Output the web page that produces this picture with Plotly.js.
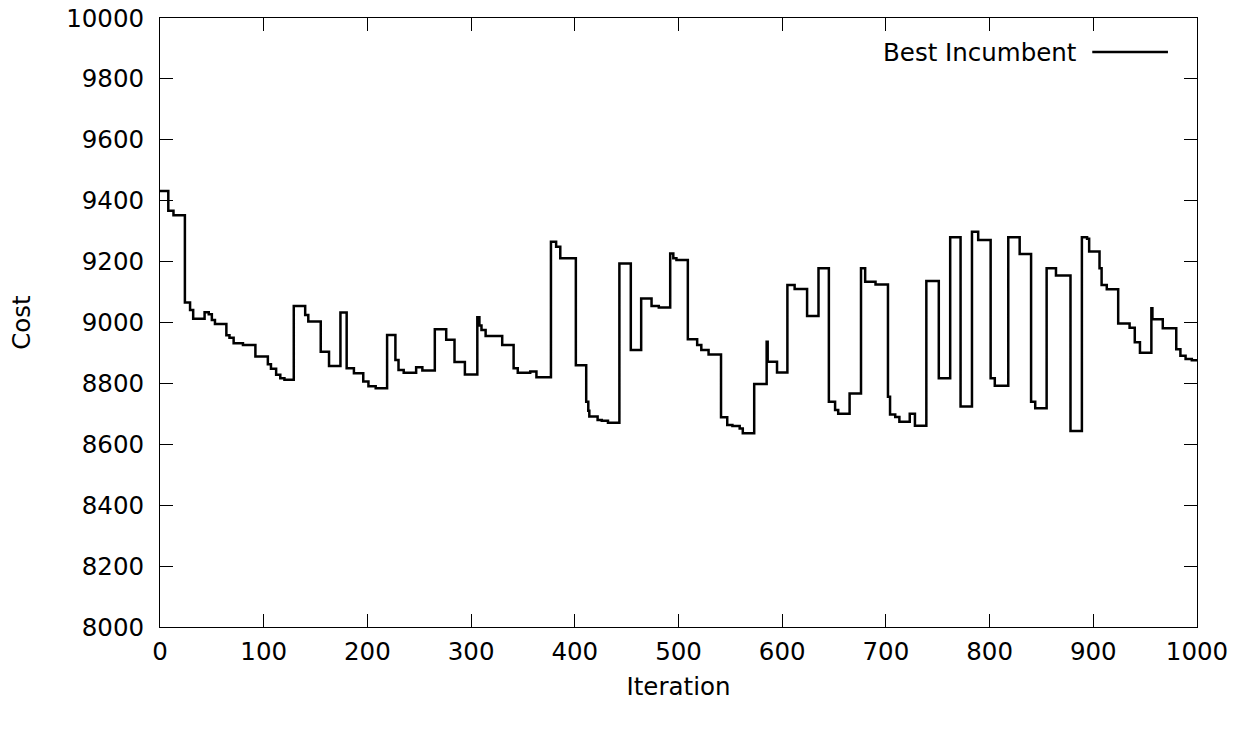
<!DOCTYPE html>
<html>
<head>
<meta charset="utf-8">
<script src="https://cdn.plot.ly/plotly-3.0.1.min.js"></script>
<style>html,body{margin:0;padding:0;background:#fff}#chart{width:1243px;height:730px}</style>
</head>
<body>
<div id="chart"></div>
<script>
// Change points of the step series (iteration, cost)
const iterations = [0,8,13,24,29,32,43,47,50,53,64,67,71,80,92,104,107,112,116,120,
  129,140,143,155,163,174,180,187,196,201,208,219,227,230,235,247,253,265,276,284,294,
  306,308,310,314,330,341,345,357,363,377,382,386,401,411,413,414,422,426,432,443,454,
  464,474,481,492,495,498,509,518,522,529,541,547,552,559,562,573,585,586,595,605,612,
  624,635,645,651,654,665,676,680,690,702,704,709,713,723,728,739,751,762,772,783,789,
  801,805,818,829,840,844,855,864,878,889,894,896,906,908,913,924,935,940,945,956,957,
  967,980,984,989,995,1000];
const bestIncumbent = [9432,9367,9352,9066,9041,9012,9034,9027,9008,8995,8958,8950,8932,8926,8888,8863,8848,8828,8817,8812,
  9054,9025,9003,8904,8857,9033,8850,8833,8806,8791,8784,8959,8877,8844,8835,8853,8842,8978,8943,8870,8829,
  9017,8990,8975,8956,8926,8850,8835,8839,8820,9265,9249,9211,8860,8740,8710,8691,8680,8677,8671,9194,8910,
  9079,9054,9049,9227,9211,9205,8945,8926,8910,8895,8689,8663,8660,8652,8636,8798,8937,8871,8836,9123,9110,
  9021,9178,8740,8713,8700,8767,9178,9134,9125,8756,8698,8690,8674,8700,8661,9136,8817,9280,8724,9298,9271,
  8817,8792,9280,9225,8740,8718,9178,9154,8644,9280,9275,9233,9178,9123,9109,8997,8983,8935,8901,9047,9011,
  8981,8912,8891,8880,8876,8876];
const seriesName = "Best Incumbent";
const xTitle = "Iteration";
const yTitle = "Cost";

const FONT = "DejaVu Sans";
const FS = 24.5;
const trace = {
  x: iterations, y: bestIncumbent, type: "scatter", mode: "lines",
  line: {shape: "hv", color: "#000", width: 2.5}, name: seriesName, showlegend: false,
  hoverinfo: "skip"
};
const axisCommon = {
  showgrid: false, zeroline: false, showline: true, linecolor: "#000", linewidth: 1,
  mirror: "ticks", ticks: "inside", ticklen: 13, tickwidth: 1, tickcolor: "#000",
  tickformat: "d",
  tickfont: {family: FONT, size: FS, color: "#000"}, automargin: false
};
const layout = {
  width: 1243, height: 730,
  margin: {l: 160, r: 46, t: 18, b: 103},
  paper_bgcolor: "#fff", plot_bgcolor: "#fff",
  font: {family: FONT, color: "#000"},
  xaxis: Object.assign({}, axisCommon, {
    range: [0, 1000], dtick: 100, tick0: 0, ticklabelstandoff: 3,
    title: {text: xTitle, font: {family: FONT, size: FS, color: "#000"}, standoff: 12}
  }),
  yaxis: Object.assign({}, axisCommon, {
    range: [8000, 10000], dtick: 200, tick0: 8000, ticklabelstandoff: 10,
    title: {text: yTitle, font: {family: FONT, size: FS, color: "#000"}, standoff: 28}
  }),
  annotations: [{
    xref: "paper", yref: "paper", x: 0.886, y: 0.944, xanchor: "right", yanchor: "middle",
    text: seriesName, showarrow: false, font: {family: FONT, size: FS, color: "#000"}
  }],
  shapes: [{
    type: "line", xref: "paper", yref: "paper", x0: 0.899, x1: 0.972, y0: 0.944, y1: 0.944,
    line: {color: "#000", width: 2.5}
  }]
};
Plotly.newPlot("chart", [trace], layout, {displayModeBar: false, staticPlot: true});
</script>
</body>
</html>
